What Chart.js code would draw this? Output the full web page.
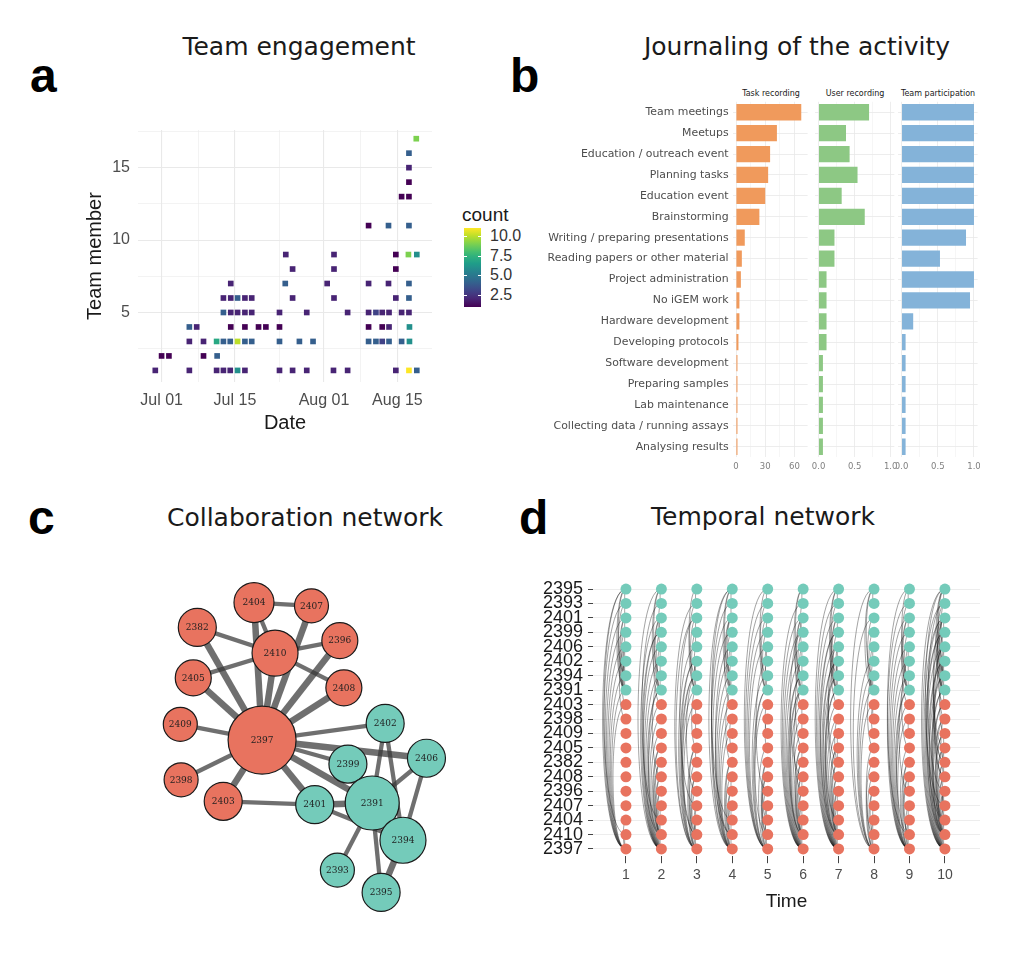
<!DOCTYPE html>
<html>
<head>
<meta charset="utf-8">
<title>Team activity overview</title>
<script src="https://cdn.jsdelivr.net/npm/chart.js@4.4.1/dist/chart.umd.min.js"></script>
<style>
  html, body { margin: 0; padding: 0; background: #fff; }
  #page { position: relative; width: 1023px; height: 963px; overflow: hidden; font-family: 'DejaVu Sans', sans-serif; }
  .panel { position: absolute; }
  .title { position: absolute; font-size: 25px; line-height: 1; color: #1a1a1a; white-space: nowrap; transform: translateX(-50%); }
  .tag { position: absolute; font: bold 48px 'Liberation Sans', Arial, sans-serif; line-height: 1; color: #000; }
  .strip { position: absolute; font-size: 8px; line-height: 9px; color: #1a1a1a; white-space: nowrap; transform: translateX(-50%); }
  .legend-title { position: absolute; font: 19px 'Liberation Sans', Arial, sans-serif; line-height: 1; color: #1a1a1a; }
  .legend-label { position: absolute; font: 16px 'Liberation Sans', Arial, sans-serif; line-height: 18px; color: #333; }
  .legend-bar { position: absolute; }
  .legend-tick { position: absolute; height: 1px; background: #fff; }
</style>
</head>
<body>
<div id="page">
  <div class="tag" style="left:30px;top:52px">a</div>
  <div class="title" style="left:299px;top:34px">Team engagement</div>
  <canvas id="chart-a" class="panel" width="385" height="330" style="left:60px;top:110px"></canvas>
  <div id="legend-a"></div>

  <div class="tag" style="left:510px;top:52px">b</div>
  <div class="title" style="left:797px;top:34px">Journaling of the activity</div>
  <div class="strip" style="left:771px;top:89px">Task recording</div>
  <div class="strip" style="left:855px;top:89px">User recording</div>
  <div class="strip" style="left:938px;top:89px">Team participation</div>
  <canvas id="chart-b1" class="panel" width="270" height="400" style="left:540px;top:80px"></canvas>
  <canvas id="chart-b2" class="panel" width="90" height="400" style="left:812px;top:80px"></canvas>
  <canvas id="chart-b3" class="panel" width="84" height="400" style="left:896px;top:80px"></canvas>

  <div class="tag" style="left:28px;top:494px">c</div>
  <div class="title" style="left:305px;top:505px">Collaboration network</div>
  <canvas id="chart-c" class="panel" width="370" height="410" style="left:120px;top:540px"></canvas>

  <div class="tag" style="left:519px;top:494px">d</div>
  <div class="title" style="left:763px;top:504px">Temporal network</div>
  <canvas id="chart-d" class="panel" width="470" height="345" style="left:520px;top:570px"></canvas>
</div>

<script>
/* ── Panel a data: one tile per (day, member) with its count ───────── */
// days counted from Jul 01
var tileDay = [
  -1.2, 5.3, 10.5, 11.8, 13.1, 14.5, 15.9, 22.5, 25.0, 27.7, 32.8, 35.5, 44.7, 47.2, 48.7,
  0.0, 1.4, 8.0, 10.6,
  5.3, 8.0, 10.5, 11.8, 13.1, 14.5, 15.9, 17.2, 22.5, 26.3, 28.9, 39.5, 40.9, 42.1, 43.4, 45.8, 47.3,
  5.3, 6.7, 13.2, 15.9, 18.5, 19.9, 22.5, 39.5, 42.1, 43.4, 47.3,
  11.8, 13.2, 14.5, 15.9, 17.2, 22.5, 27.7, 35.5, 39.5, 40.9, 42.1, 43.4, 45.8, 47.2,
  11.8, 13.2, 14.5, 15.9, 17.2, 25.0, 32.9, 44.7, 47.2,
  13.2, 23.6, 31.6, 39.5, 43.3, 47.2,
  25.0, 32.9, 44.7,
  23.7, 32.9, 44.7, 47.1, 48.7,
  39.5, 43.3, 47.2,
  45.8, 47.2,
  47.2,
  47.2,
  47.2,
  48.6
];
var tileMember = [
  1, 1, 1, 1, 1, 1, 1, 1, 1, 1, 1, 1, 1, 1, 1,
  2, 2, 2, 2,
  3, 3, 3, 3, 3, 3, 3, 3, 3, 3, 3, 3, 3, 3, 3, 3, 3,
  4, 4, 4, 4, 4, 4, 4, 4, 4, 4, 4,
  5, 5, 5, 5, 5, 5, 5, 5, 5, 5, 5, 5, 5, 5,
  6, 6, 6, 6, 6, 6, 6, 6, 6,
  7, 7, 7, 7, 7, 7,
  8, 8, 8,
  9, 9, 9, 9, 9,
  11, 11, 11,
  13, 13,
  14,
  15,
  16,
  17
];
var tileCount = [
  2, 2, 2, 2, 2, 6, 2, 2, 2, 2, 2, 2, 2, 11, 4,
  1, 1, 1, 4,
  2, 2, 7, 4, 4, 10, 4, 4, 4, 4, 4, 4, 4, 3, 4, 4, 6,
  4, 2, 1, 1, 1, 1, 1, 1, 1, 2, 6,
  4, 2, 2, 2, 2, 2, 2, 2, 2, 3, 2, 2, 2, 2,
  2, 2, 4, 2, 2, 2, 2, 2, 4,
  2, 4, 2, 2, 2, 4,
  2, 2, 1,
  2, 2, 1, 9, 6,
  1, 4, 4,
  1, 1,
  1,
  2,
  4,
  9
];
var countRange = [1, 11];
var dateTicks = [0, 14, 31, 45];
var dateLabels = ['Jul 01', 'Jul 15', 'Aug 01', 'Aug 15'];
var memberTicks = [5, 10, 15];
var countTicks = [2.5, 5, 7.5, 10];

/* ── Panel b data ─────────────────────────────────────────────────── */
var activityLabels = [
  'Team meetings', 'Meetups', 'Education / outreach event', 'Planning tasks',
  'Education event', 'Brainstorming', 'Writing / preparing presentations',
  'Reading papers or other material', 'Project administration', 'No iGEM work',
  'Hardware development', 'Developing protocols', 'Software development',
  'Preparing samples', 'Lab maintenance', 'Collecting data / running assays',
  'Analysing results'
];
var taskRecording = [67, 42, 35, 33, 30, 24, 9, 6, 5, 3.5, 3.5, 2.5, 1.5, 1.5, 1.5, 1.5, 1.5];
var userRecording = [0.70, 0.38, 0.43, 0.54, 0.32, 0.64, 0.22, 0.22, 0.11, 0.11, 0.11, 0.11, 0.06, 0.06, 0.06, 0.06, 0.06];
var teamParticipation = [1, 1, 1, 1, 1, 1, 0.89, 0.53, 1, 0.945, 0.16, 0.055, 0.055, 0.055, 0.055, 0.055, 0.055];
var taskTicks = [0, 30, 60];
var shareTicks = [0, 0.5, 1];

/* ── Panel c data: collaboration network ──────────────────────────── */
var nodeIds = ['2404', '2407', '2382', '2396', '2410', '2405', '2408', '2409', '2397', '2402',
               '2406', '2399', '2398', '2403', '2401', '2391', '2394', '2393', '2395'];
var nodeTeam = ['A', 'A', 'A', 'A', 'A', 'A', 'A', 'A', 'A', 'B',
                'B', 'B', 'A', 'A', 'B', 'B', 'B', 'B', 'B'];
// layout coordinates (arbitrary units)
var nodeLayoutX = [12.2, 19.3, 5.2, 22.8, 14.8, 4.7, 23.3, 3.1, 13.2, 28.4,
                   33.5, 23.8, 3.2, 8.4, 19.7, 26.8, 30.6, 22.5, 27.9];
var nodeLayoutY = [3.3, 3.7, 6.3, 7.9, 9.4, 12.4, 13.6, 18.0, 19.9, 17.9,
                   22.1, 22.8, 24.7, 27.3, 27.7, 27.5, 32.0, 35.6, 38.3];
var nodeSize = [20, 17, 19, 18, 23, 18, 18, 17, 34, 19,
                19, 19, 17, 19, 19, 27, 23, 17, 19];
var edgeFrom = ['2404', '2404', '2404', '2382', '2382', '2405', '2405', '2410', '2410', '2410',
                '2407', '2396', '2408', '2409', '2398', '2403', '2403', '2397', '2397', '2397',
                '2397', '2397', '2401', '2401', '2399', '2402', '2402', '2406', '2406', '2391',
                '2391', '2391', '2394'];
var edgeTo   = ['2407', '2410', '2397', '2410', '2397', '2410', '2397', '2396', '2408', '2397',
                '2397', '2397', '2397', '2397', '2397', '2397', '2401', '2402', '2406', '2399',
                '2391', '2401', '2391', '2394', '2391', '2391', '2394', '2391', '2394', '2394',
                '2393', '2395', '2395'];
var edgeWeight = [2, 2, 3, 2, 3, 2, 3, 2, 2, 3,
                  3, 3, 3, 2, 2, 3, 2, 2, 3, 2,
                  3, 3, 3, 2, 3, 2, 2, 2, 2, 3,
                  2, 2, 3];

/* ── Panel d data: member pairs active at each time step ──────────── */
var timeSteps = [1, 2, 3, 4, 5, 6, 7, 8, 9, 10];
var rowOrder = ['2395', '2393', '2401', '2399', '2406', '2402', '2394', '2391', '2403', '2398',
                '2409', '2405', '2382', '2408', '2396', '2407', '2404', '2410', '2397'];
var pairsAtTime = [
  ['2397-2391', '2397-2401', '2397-2399', '2397-2406', '2397-2402', '2397-2394', '2397-2395', '2397-2393',
   '2397-2410', '2397-2403', '2397-2404', '2391-2394', '2391-2395', '2391-2393', '2394-2395', '2402-2391',
   '2406-2394', '2399-2391', '2401-2391', '2402-2394', '2406-2391', '2406-2402', '2395-2393', '2393-2401',
   '2401-2399', '2399-2406', '2402-2403', '2406-2398', '2401-2394', '2410-2395'],
  ['2397-2410', '2397-2404', '2397-2407', '2397-2396', '2397-2408', '2397-2382', '2397-2405', '2397-2409',
   '2397-2398', '2397-2403', '2397-2391', '2397-2394', '2397-2402', '2397-2406', '2397-2399', '2397-2401',
   '2397-2395', '2410-2404', '2410-2382', '2410-2405', '2410-2396', '2410-2408', '2404-2407', '2410-2391',
   '2410-2399', '2391-2394', '2391-2395', '2394-2395', '2402-2394', '2406-2391', '2401-2391', '2399-2391',
   '2395-2393', '2406-2402', '2401-2406', '2393-2399', '2403-2401', '2408-2394', '2404-2393'],
  ['2397-2410', '2397-2404', '2397-2396', '2397-2408', '2397-2382', '2397-2405', '2397-2403', '2397-2391',
   '2397-2394', '2397-2402', '2397-2406', '2397-2401', '2397-2393', '2410-2404', '2410-2405', '2410-2408',
   '2410-2407', '2404-2407', '2382-2405', '2410-2394', '2410-2402', '2391-2394', '2391-2393', '2394-2395',
   '2402-2391', '2406-2394', '2399-2391', '2401-2391', '2395-2393', '2399-2406', '2401-2399', '2402-2394',
   '2403-2398', '2409-2398', '2396-2394', '2407-2401', '2405-2391'],
  ['2397-2410', '2397-2407', '2397-2396', '2397-2408', '2397-2382', '2397-2409', '2397-2398', '2397-2403',
   '2397-2391', '2397-2394', '2397-2399', '2397-2401', '2397-2395', '2397-2402', '2410-2404', '2410-2382',
   '2410-2396', '2404-2407', '2408-2396', '2410-2393', '2410-2406', '2391-2394', '2391-2395', '2394-2395',
   '2402-2391', '2406-2391', '2401-2391', '2399-2391', '2395-2393', '2406-2402', '2401-2394', '2393-2401',
   '2403-2401', '2405-2398', '2382-2391', '2404-2395'],
  ['2397-2410', '2397-2404', '2397-2405', '2397-2408', '2397-2396', '2397-2403', '2397-2391', '2397-2394',
   '2397-2406', '2397-2399', '2397-2401', '2397-2393', '2397-2395', '2410-2382', '2410-2408', '2410-2407',
   '2404-2407', '2410-2391', '2391-2394', '2391-2393', '2394-2395', '2406-2394', '2402-2391', '2399-2391',
   '2401-2391', '2395-2393', '2406-2402', '2399-2401', '2403-2409', '2398-2405', '2396-2402', '2382-2404'],
  ['2397-2410', '2397-2404', '2397-2407', '2397-2396', '2397-2408', '2397-2382', '2397-2405', '2397-2409',
   '2397-2398', '2397-2403', '2397-2391', '2397-2394', '2397-2402', '2397-2406', '2397-2399', '2397-2401',
   '2397-2393', '2410-2404', '2410-2382', '2410-2405', '2410-2396', '2410-2408', '2404-2407', '2382-2405',
   '2408-2396', '2409-2398', '2403-2398', '2403-2401', '2410-2391', '2410-2394', '2405-2402', '2391-2394',
   '2391-2395', '2394-2395', '2402-2394', '2406-2391', '2401-2391', '2399-2391', '2395-2393', '2406-2402',
   '2401-2406', '2393-2399', '2408-2399', '2396-2391'],
  ['2397-2410', '2397-2404', '2397-2407', '2397-2396', '2397-2408', '2397-2382', '2397-2405', '2397-2409',
   '2397-2398', '2397-2403', '2397-2391', '2397-2394', '2397-2402', '2397-2406', '2397-2399', '2397-2401',
   '2397-2395', '2397-2393', '2410-2404', '2410-2382', '2410-2405', '2410-2396', '2410-2408', '2404-2407',
   '2382-2405', '2407-2396', '2410-2391', '2410-2402', '2410-2399', '2404-2394', '2382-2406', '2391-2394',
   '2391-2395', '2391-2393', '2394-2395', '2402-2391', '2406-2394', '2399-2391', '2401-2391', '2395-2393',
   '2406-2402', '2401-2399', '2402-2394', '2403-2401', '2409-2405', '2398-2382', '2408-2402'],
  ['2397-2410', '2397-2404', '2397-2396', '2397-2408', '2397-2382', '2397-2403', '2397-2391', '2397-2394',
   '2397-2402', '2397-2401', '2397-2395', '2410-2404', '2410-2405', '2410-2396', '2404-2407', '2391-2394',
   '2391-2395', '2394-2395', '2402-2391', '2406-2391', '2399-2391', '2401-2391', '2395-2393', '2406-2402',
   '2403-2398', '2409-2403', '2405-2394'],
  ['2397-2410', '2397-2404', '2397-2407', '2397-2408', '2397-2382', '2397-2405', '2397-2398', '2397-2403',
   '2397-2391', '2397-2394', '2397-2402', '2397-2406', '2397-2399', '2397-2401', '2397-2393', '2410-2404',
   '2410-2382', '2410-2408', '2404-2407', '2408-2396', '2410-2391', '2410-2395', '2391-2394', '2391-2393',
   '2394-2395', '2402-2394', '2406-2391', '2401-2391', '2399-2391', '2395-2393', '2406-2402', '2401-2399',
   '2403-2401', '2409-2398', '2396-2394', '2405-2402'],
  ['2397-2410', '2397-2404', '2397-2407', '2397-2396', '2397-2408', '2397-2382', '2397-2405', '2397-2409',
   '2397-2398', '2397-2403', '2397-2391', '2397-2394', '2397-2402', '2397-2406', '2397-2399', '2397-2401',
   '2397-2395', '2397-2393', '2410-2404', '2410-2382', '2410-2405', '2410-2396', '2410-2408', '2404-2407',
   '2382-2405', '2407-2396', '2410-2391', '2410-2402', '2410-2399', '2404-2394', '2382-2406', '2391-2394',
   '2391-2395', '2391-2393', '2394-2395', '2402-2391', '2406-2394', '2399-2391', '2401-2391', '2395-2393',
   '2406-2402', '2401-2399', '2402-2394', '2403-2401', '2409-2405', '2398-2382', '2408-2402', '2404-2396',
   '2407-2408', '2382-2408', '2405-2408', '2409-2410', '2398-2404', '2403-2410', '2396-2393', '2407-2395',
   '2408-2406', '2405-2401', '2382-2399', '2404-2401', '2409-2394', '2403-2391', '2398-2402', '2393-2406',
   '2395-2402', '2401-2394', '2399-2394']
];

(function () {
  'use strict';

  /* ── Helpers ─────────────────────────────────────────────────────── */
  var SANS = "'Liberation Sans', Arial, sans-serif";
  var DEJAVU = "'DejaVu Sans', sans-serif";
  var GRID = '#e9e9e9';
  var TEAM_COLOURS = { A: '#e8735f', B: '#74cbba' };

  var VIRIDIS = ['#440154', '#482878', '#3e4989', '#31688e', '#26828e',
                 '#1f9e89', '#35b779', '#6ece58', '#b5de2b', '#fde725'];

  function hexToRgb(h) {
    return [parseInt(h.slice(1, 3), 16), parseInt(h.slice(3, 5), 16), parseInt(h.slice(5, 7), 16)];
  }

  function viridis(t) {
    t = Math.max(0, Math.min(1, t));
    var pos = t * (VIRIDIS.length - 1);
    var i = Math.min(Math.floor(pos), VIRIDIS.length - 2);
    var f = pos - i;
    var a = hexToRgb(VIRIDIS[i]), b = hexToRgb(VIRIDIS[i + 1]);
    return 'rgb(' + a.map(function (v, k) { return Math.round(v + (b[k] - v) * f); }).join(',') + ')';
  }

  function countColour(c) {
    return viridis((c - countRange[0]) / (countRange[1] - countRange[0]));
  }

  // fixes an axis box to a given size so plot areas land where we want them
  function fixBox(size) {
    return function (s) {
      if (s.isHorizontal()) s.height = size; else s.width = size;
      s.paddingLeft = 0; s.paddingRight = 0; s.paddingTop = 0; s.paddingBottom = 0;
    };
  }

  // major ticks plus the midpoints between them (minor grid)
  function withMinor(major, min, max) {
    var out = [];
    var step = major.length > 1 ? major[1] - major[0] : 1;
    var ext = [major[0] - step].concat(major, [major[major.length - 1] + step]);
    for (var i = 0; i < ext.length; i++) {
      if (ext[i] >= min && ext[i] <= max) out.push(ext[i]);
      if (i < ext.length - 1) {
        var m = (ext[i] + ext[i + 1]) / 2;
        if (m >= min && m <= max) out.push(m);
      }
    }
    return out.sort(function (a, b) { return a - b; });
  }

  function isMajor(list, v) {
    return list.some(function (m) { return Math.abs(m - v) < 1e-6; });
  }

  Chart.defaults.animation = false;
  Chart.defaults.events = [];
  Chart.defaults.plugins.legend.display = false;
  Chart.defaults.plugins.tooltip.enabled = false;

  /* ── a. Team engagement tiles ────────────────────────────────────── */
  var xRangeA = [-4.5, 51.6];
  var yRangeA = [0.2, 17.6];

  new Chart(document.getElementById('chart-a'), {
    type: 'scatter',
    data: {
      datasets: [{
        data: tileDay.map(function (d, i) { return { x: d, y: tileMember[i], c: tileCount[i] }; }),
        pointStyle: 'rect',
        pointRadius: 4,
        borderWidth: 0,
        backgroundColor: function (ctx) { return ctx.raw ? countColour(ctx.raw.c) : '#000'; }
      }]
    },
    options: {
      responsive: false,
      layout: { padding: { left: 0, top: 20, right: 13, bottom: 0 } },
      scales: {
        x: {
          type: 'linear', min: xRangeA[0], max: xRangeA[1],
          afterBuildTicks: function (s) {
            s.ticks = withMinor(dateTicks, xRangeA[0], xRangeA[1]).map(function (v) { return { value: v }; });
          },
          afterFit: fixBox(58),
          border: { display: false },
          grid: {
            color: GRID, drawTicks: false,
            lineWidth: function (c) { return isMajor(dateTicks, c.tick.value) ? 1.1 : 0.55; }
          },
          ticks: {
            padding: 9, color: '#4d4d4d', autoSkip: false, maxRotation: 0,
            font: { family: SANS, size: 16 },
            callback: function (v) { var i = dateTicks.indexOf(v); return i < 0 ? '' : dateLabels[i]; }
          },
          title: { display: true, text: 'Date', color: '#1a1a1a', font: { family: SANS, size: 20 }, padding: { top: 0, bottom: 5 } }
        },
        y: {
          type: 'linear', min: yRangeA[0], max: yRangeA[1],
          afterBuildTicks: function (s) {
            s.ticks = withMinor(memberTicks, yRangeA[0], yRangeA[1]).map(function (v) { return { value: v }; });
          },
          afterFit: fixBox(78),
          border: { display: false },
          grid: {
            color: GRID, drawTicks: false,
            lineWidth: function (c) { return isMajor(memberTicks, c.tick.value) ? 1.1 : 0.55; }
          },
          ticks: {
            padding: 8, color: '#4d4d4d', autoSkip: false,
            font: { family: SANS, size: 16 },
            callback: function (v) { return isMajor(memberTicks, v) ? String(v) : ''; }
          },
          title: { display: true, text: 'Team member', color: '#1a1a1a', font: { family: SANS, size: 20 }, padding: { top: 23, bottom: 0 } }
        }
      }
    }
  });

  // colour bar legend
  (function buildLegend() {
    var host = document.getElementById('legend-a');
    var bar = { left: 464, top: 228, width: 17, height: 79 };
    var stops = [];
    for (var i = 0; i <= 20; i++) stops.push(viridis(i / 20) + ' ' + (i * 5) + '%');
    var html = '<div class="legend-title" style="left:462px;top:205px">count</div>';
    html += '<div class="legend-bar" style="left:' + bar.left + 'px;top:' + bar.top + 'px;width:' + bar.width +
            'px;height:' + bar.height + 'px;background:linear-gradient(to top,' + stops.join(',') + ')"></div>';
    countTicks.slice().reverse().forEach(function (v) {
      var y = bar.top + bar.height * (1 - (v - countRange[0]) / (countRange[1] - countRange[0]));
      html += '<div class="legend-tick" style="left:' + bar.left + 'px;top:' + y.toFixed(1) + 'px;width:3px"></div>';
      html += '<div class="legend-tick" style="left:' + (bar.left + bar.width - 3) + 'px;top:' + y.toFixed(1) + 'px;width:3px"></div>';
      html += '<div class="legend-label" style="left:490px;top:' + (y - 9).toFixed(1) + 'px">' + v.toFixed(1) + '</div>';
    });
    host.innerHTML = html;
  })();

  /* ── b. Journaling bars (three facets) ───────────────────────────── */
  function barPanel(id, values, colour, range, major, fmt, box) {
    return new Chart(document.getElementById(id), {
      type: 'bar',
      data: {
        labels: activityLabels,
        datasets: [{ data: values, backgroundColor: colour, borderWidth: 0, barPercentage: 0.78, categoryPercentage: 1 }]
      },
      options: {
        responsive: false,
        indexAxis: 'y',
        layout: { padding: { left: box.padLeft, right: box.padRight, top: 21.8, bottom: 0 } },
        scales: {
          x: {
            type: 'linear', min: range[0], max: range[1],
            afterBuildTicks: function (s) {
              s.ticks = withMinor(major, range[0], range[1]).map(function (v) { return { value: v }; });
            },
            afterFit: fixBox(22.8),
            border: { display: false },
            grid: {
              color: GRID, drawTicks: false,
              lineWidth: function (c) { return isMajor(major, c.tick.value) ? 0.8 : 0.4; }
            },
            ticks: {
              padding: 4, color: '#808080', autoSkip: false, maxRotation: 0,
              font: { family: DEJAVU, size: 8.5 },
              callback: function (v) { return isMajor(major, v) ? fmt(v) : ''; }
            }
          },
          y: {
            type: 'category', offset: true,
            afterFit: fixBox(box.yWidth),
            border: { display: false },
            grid: { color: GRID, lineWidth: 0.8, drawTicks: false, offset: false },
            ticks: {
              display: box.showLabels, padding: 4, color: '#4d4d4d', autoSkip: false,
              font: { family: DEJAVU, size: 10.9 }
            }
          }
        }
      }
    });
  }

  barPanel('chart-b1', taskRecording, '#f09a5c', [-3.5, 73.5], taskTicks,
    function (v) { return String(v); }, { padLeft: 0, padRight: 2.4, yWidth: 192.6, showLabels: true });
  barPanel('chart-b2', userRecording, '#8dc884', [-0.05, 1.05], shareTicks,
    function (v) { return v.toFixed(1); }, { padLeft: 3, padRight: 7.7, yWidth: 0, showLabels: false });
  barPanel('chart-b3', teamParticipation, '#84b3d9', [-0.05, 1.05], shareTicks,
    function (v) { return v.toFixed(1); }, { padLeft: 2, padRight: 2.4, yWidth: 0, showLabels: false });

  /* ── c. Collaboration network ────────────────────────────────────── */
  function nodeIndex(id) { return nodeIds.indexOf(id); }

  var edgeSets = edgeFrom.map(function (a, i) {
    var ia = nodeIndex(a), ib = nodeIndex(edgeTo[i]);
    return {
      type: 'line',
      order: 1,
      data: [{ x: nodeLayoutX[ia], y: nodeLayoutY[ia] }, { x: nodeLayoutX[ib], y: nodeLayoutY[ib] }],
      borderColor: 'rgba(55,55,55,0.72)',
      borderWidth: edgeWeight[i] === 3 ? 6.5 : 4.3,
      borderCapStyle: 'butt',
      pointRadius: 0,
      fill: false,
      clip: false
    };
  });

  var nodeLabels = {
    id: 'nodeLabels',
    afterDatasetsDraw: function (chart) {
      var meta = chart.getDatasetMeta(0);
      var ctx = chart.ctx;
      ctx.save();
      ctx.font = "9px 'DejaVu Serif', serif";
      ctx.fillStyle = '#1f1f1f';
      ctx.textAlign = 'center';
      ctx.textBaseline = 'middle';
      meta.data.forEach(function (el, i) { ctx.fillText(nodeIds[i], el.x, el.y + 0.5); });
      ctx.restore();
    }
  };

  new Chart(document.getElementById('chart-c'), {
    type: 'bubble',
    data: {
      datasets: [{
        order: 0,
        data: nodeIds.map(function (id, i) { return { x: nodeLayoutX[i], y: nodeLayoutY[i], r: nodeSize[i] }; }),
        backgroundColor: nodeTeam.map(function (t) { return TEAM_COLOURS[t]; }),
        borderColor: '#1a1a1a',
        borderWidth: 1.2,
        clip: false
      }].concat(edgeSets)
    },
    options: {
      responsive: false,
      layout: { padding: 0 },
      scales: {
        x: { type: 'linear', min: 0, max: 37, display: false },
        y: { type: 'linear', min: 0, max: 41, reverse: true, display: false }
      }
    },
    plugins: [nodeLabels]
  });

  /* ── d. Temporal network (arc diagram per time step) ─────────────── */
  var rowTeam = rowOrder.map(function (id) { return nodeTeam[nodeIndex(id)]; });

  var arcs = {
    id: 'arcs',
    beforeDatasetsDraw: function (chart) {
      var xs = chart.scales.x, ys = chart.scales.y, ctx = chart.ctx;
      ctx.save();
      ctx.lineWidth = 1;
      ctx.strokeStyle = 'rgba(0,0,0,0.36)';
      timeSteps.forEach(function (t, ti) {
        var x0 = xs.getPixelForValue(t);
        pairsAtTime[ti].forEach(function (p) {
          var ends = p.split('-');
          var ya = ys.getPixelForValue(rowOrder.indexOf(ends[0]));
          var yb = ys.getPixelForValue(rowOrder.indexOf(ends[1]));
          var c = Math.abs(ya - yb) * 0.09 * 4 / 3;   // half-ellipse bulging left
          ctx.beginPath();
          ctx.moveTo(x0, ya);
          ctx.bezierCurveTo(x0 - c, ya, x0 - c, yb, x0, yb);
          ctx.stroke();
        });
      });
      ctx.restore();
    }
  };

  var nodePoints = [];
  var nodeColours = [];
  timeSteps.forEach(function (t) {
    rowOrder.forEach(function (id, r) {
      nodePoints.push({ x: t, y: id });
      nodeColours.push(TEAM_COLOURS[rowTeam[r]]);
    });
  });

  new Chart(document.getElementById('chart-d'), {
    type: 'scatter',
    data: {
      datasets: [{
        data: nodePoints,
        pointRadius: 5.5,
        borderWidth: 0,
        backgroundColor: nodeColours
      }]
    },
    options: {
      responsive: false,
      layout: { padding: { left: 0, top: 11.8, right: 10, bottom: 0 } },
      scales: {
        x: {
          type: 'linear', min: 0.07, max: 10.99,
          afterBuildTicks: function (s) { s.ticks = timeSteps.map(function (v) { return { value: v }; }); },
          afterFit: fixBox(58.8),
          border: { display: false },
          grid: { drawOnChartArea: false, drawTicks: true, tickLength: 7, tickColor: '#444', tickWidth: 1 },
          ticks: { padding: 4, color: '#4d4d4d', autoSkip: false, maxRotation: 0, font: { family: SANS, size: 14 } },
          title: { display: true, text: 'Time', color: '#1a1a1a', font: { family: SANS, size: 19 }, padding: { top: 0, bottom: 2 } }
        },
        y: {
          type: 'category', labels: rowOrder, offset: true,
          afterFit: fixBox(73),
          border: { display: false },
          grid: { color: GRID, lineWidth: 0.8, offset: false, drawTicks: true, tickLength: 5, tickColor: '#444', tickWidth: 1 },
          ticks: { padding: 5, color: '#1a1a1a', autoSkip: false, font: { family: SANS, size: 18 } }
        }
      }
    },
    plugins: [arcs]
  });
})();
</script>
</body>
</html>
